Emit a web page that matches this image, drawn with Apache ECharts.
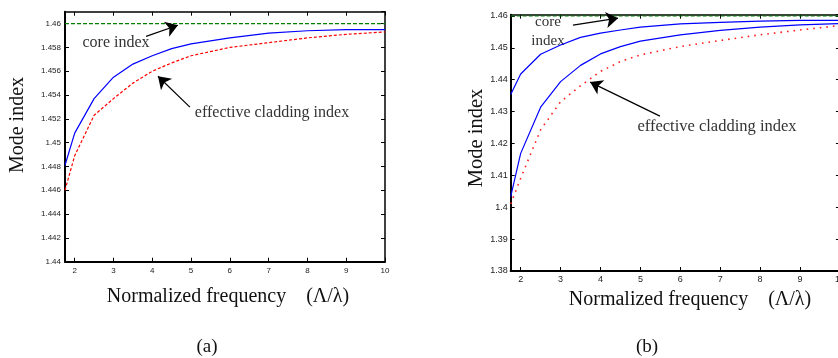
<!DOCTYPE html>
<html><head><meta charset="utf-8">
<script src="https://cdn.jsdelivr.net/npm/echarts@6/dist/echarts.min.js"></script>
<style>html,body{margin:0;padding:0;background:#fff}#c{width:838px;height:358px}</style>
</head><body><div id="c"></div>
<script>
// ---- data ----
const freqA = [1.75, 2, 2.5, 3, 3.5, 4, 4.5, 5, 6, 7, 8, 9, 10];
const coreModeA = [1.4481, 1.4508, 1.4537, 1.4555, 1.4566, 1.4573, 1.4579, 1.4583, 1.4588, 1.4592, 1.4594, 1.4595, 1.4595];
const claddingA = [1.4460, 1.4489, 1.4523, 1.4537, 1.4550, 1.4560, 1.4567, 1.4573, 1.4580, 1.4584, 1.4588, 1.4591, 1.4593];
const freqB = [1.75, 2, 2.5, 3, 3.5, 4, 4.5, 5, 6, 7, 8, 9, 10];
const coreModeB1 = [1.4354, 1.4418, 1.4480, 1.4509, 1.4533, 1.4546, 1.4556, 1.4565, 1.4575, 1.4580, 1.4584, 1.4586, 1.4586];
const coreModeB2 = [1.4033, 1.4169, 1.4314, 1.4394, 1.4445, 1.4481, 1.4504, 1.4521, 1.4541, 1.4555, 1.4565, 1.4572, 1.4576];
const claddingB = [1.4010, 1.4091, 1.4243, 1.4331, 1.4381, 1.4426, 1.4457, 1.4478, 1.4504, 1.4523, 1.4541, 1.4556, 1.4570];
const coreIndex = 1.46;
const xTicks = [2, 3, 4, 5, 6, 7, 8, 9, 10];
const xRange = [1.75, 10];
const yRangeA = [1.44, 1.461], yStepA = 0.002;
const yRangeB = [1.38, 1.4604], yStepB = 0.01;

const zip = (xs, ys) => xs.map((x, i) => [x, ys[i]]);
const SERIF = '"Liberation Serif","Times New Roman",serif';
const SANS = '"Liberation Sans",Arial,sans-serif';
const fmtY = v => String(+(+v).toFixed(4));

function xAxes(gi, fs, margin) {
  const base = {gridIndex: gi, type: 'value', min: xRange[0], max: xRange[1],
    splitLine: {show: false},
    axisLine: {show: true, lineStyle: {color: '#000', width: 1.5}}};
  return [
    Object.assign({}, base, {position: 'bottom',
      axisLine: {show: true, onZero: false, lineStyle: {color: '#000', width: 2}},
      axisTick: {show: true, inside: true, length: 4, customValues: xTicks, lineStyle: {color: '#000'}},
      axisLabel: {show: true, customValues: xTicks, fontSize: fs, color: '#222', fontFamily: SANS, margin: margin}}),
    Object.assign({}, base, {position: 'top',
      axisTick: {show: true, inside: true, length: 4, customValues: xTicks, lineStyle: {color: '#000'}},
      axisLabel: {show: false}})
  ];
}
function yAxes(gi, range, step, fs, margin) {
  const base = {gridIndex: gi, type: 'value', min: range[0], max: range[1], interval: step,
    splitLine: {show: false}};
  return [
    Object.assign({}, base, {position: 'left',
      axisLine: {show: true, onZero: false, lineStyle: {color: '#000', width: 2}},
      axisTick: {show: true, inside: true, length: 4, lineStyle: {color: '#000'}},
      axisLabel: {show: true, showMaxLabel: false, formatter: fmtY, fontSize: fs, color: '#222', fontFamily: SANS, margin: margin}}),
    Object.assign({}, base, {position: 'right',
      axisLine: {show: true, onZero: false, lineStyle: {color: '#000', width: 1.5}},
      axisTick: {show: true, inside: true, length: 4, lineStyle: {color: '#000'}},
      axisLabel: {show: false}})
  ];
}
const arrowML = (pairs) => ({
  silent: true, symbol: ['none', 'arrow'], symbolSize: 12, precision: 6,
  label: {show: false}, lineStyle: {color: '#000', type: 'solid', width: 1.2},
  data: pairs.map(p => [{coord: p[0]}, {coord: p[1]}])
});
const lineS = (xi, yi, data, color, type, width, extra) => Object.assign({
  type: 'line', xAxisIndex: xi, yAxisIndex: yi, data: data, showSymbol: false, smooth: false,
  lineStyle: {color: color, type: type, width: width}, z: 3
}, extra || {});

const chart = echarts.init(document.getElementById('c'), null, {renderer: 'canvas'});
chart.setOption({
  animation: false,
  backgroundColor: '#fff',
  grid: [
    {left: 65, top: 11.7, width: 320, height: 250, outerBoundsMode: 'none', containLabel: false},
    {left: 510.7, top: 14.7, width: 329.2, height: 256.3, outerBoundsMode: 'none', containLabel: false}
  ],
  xAxis: [].concat(xAxes(0, 8, 5), xAxes(1, 9, 4)),
  yAxis: [].concat(yAxes(0, yRangeA, yStepA, 8, 4), yAxes(1, yRangeB, yStepB, 9, 3)),
  series: [
    lineS(0, 0, [[xRange[0], coreIndex], [xRange[1], coreIndex]], '#008000', [4, 2], 1.2),
    lineS(0, 0, zip(freqA, claddingA), '#ff0000', [3, 2], 1.2),
    lineS(0, 0, zip(freqA, coreModeA), '#0000ff', 'solid', 1.2, {
      markLine: arrowML([[[3.84, 1.45893], [4.66, 1.45986]], [[4.97, 1.45298], [4.147, 1.45558]]])
    }),
    lineS(2, 2, [[xRange[0], coreIndex], [xRange[1], coreIndex]], '#008000', [4, 2], 1.2),
    lineS(2, 2, zip(freqB, claddingB), '#ff2020', [1.6, 5], 1.6),
    lineS(2, 2, zip(freqB, coreModeB2), '#0000ff', 'solid', 1.2),
    lineS(2, 2, zip(freqB, coreModeB1), '#0000ff', 'solid', 1.2, {
      markLine: arrowML([[[3.31, 1.45712], [4.44, 1.45931]], [[5.49, 1.42859], [3.74, 1.43925]]])
    })
  ],
  graphic: [
    {type: 'text', x: 116, y: 43, style: {text: 'core index', font: '16px ' + SERIF, fill: '#333', textAlign: 'center', textVerticalAlign: 'middle'}},
    {type: 'text', x: 272, y: 113, style: {text: 'effective cladding index', font: '16px ' + SERIF, fill: '#333', textAlign: 'center', textVerticalAlign: 'middle'}},
    {type: 'text', x: 18, y: 125, rotation: Math.PI / 2, style: {text: 'Mode index', font: '20px ' + SERIF, fill: '#111', textAlign: 'center', textVerticalAlign: 'middle'}},
    {type: 'text', x: 228, y: 297, style: {text: 'Normalized frequency    (\u039B/\u03BB)', font: '20px ' + SERIF, fill: '#111', textAlign: 'center', textVerticalAlign: 'middle'}},
    {type: 'text', x: 207, y: 347, style: {text: '(a)', font: '19px ' + SERIF, fill: '#111', textAlign: 'center', textVerticalAlign: 'middle'}},
    {type: 'text', x: 548, y: 22, style: {text: 'core', font: '15px ' + SERIF, fill: '#333', textAlign: 'center', textVerticalAlign: 'middle'}},
    {type: 'text', x: 548, y: 41, style: {text: 'index', font: '15px ' + SERIF, fill: '#333', textAlign: 'center', textVerticalAlign: 'middle'}},
    {type: 'text', x: 717, y: 127, style: {text: 'effective cladding index', font: '16.5px ' + SERIF, fill: '#333', textAlign: 'center', textVerticalAlign: 'middle'}},
    {type: 'text', x: 477, y: 138, rotation: Math.PI / 2, style: {text: 'Mode index', font: '20.5px ' + SERIF, fill: '#111', textAlign: 'center', textVerticalAlign: 'middle'}},
    {type: 'text', x: 690, y: 300, style: {text: 'Normalized frequency    (\u039B/\u03BB)', font: '20px ' + SERIF, fill: '#111', textAlign: 'center', textVerticalAlign: 'middle'}},
    {type: 'text', x: 647, y: 347, style: {text: '(b)', font: '19px ' + SERIF, fill: '#111', textAlign: 'center', textVerticalAlign: 'middle'}}
  ]
});
</script></body></html>
